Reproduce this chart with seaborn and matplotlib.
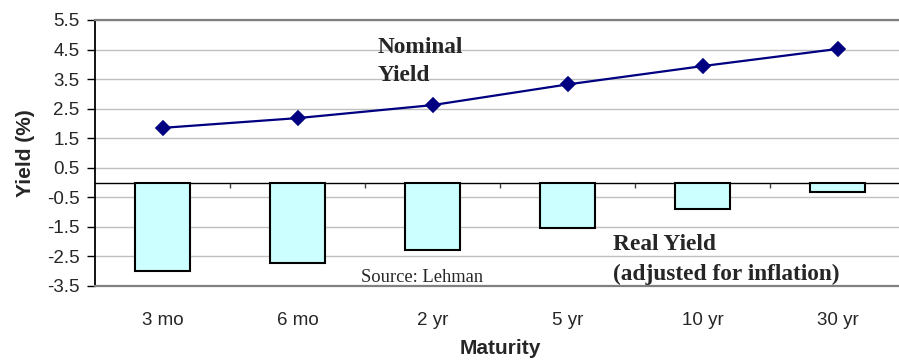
import numpy as np
import pandas as pd
import matplotlib
matplotlib.use('Agg')
import matplotlib.pyplot as plt
import seaborn as sns

# yield curve data
maturity = ['3 mo', '6 mo', '2 yr', '5 yr', '10 yr', '30 yr']
nominal_yield = [1.85, 2.18, 2.62, 3.32, 3.94, 4.52]
real_yield = [-3.0, -2.72, -2.28, -1.54, -0.90, -0.32]
y_ticks = [5.5, 4.5, 3.5, 2.5, 1.5, 0.5, -0.5, -1.5, -2.5, -3.5]

df = pd.DataFrame({'Maturity': maturity, 'Nominal': nominal_yield, 'Real': real_yield})

sns.set_style('white')
plt.rcParams['font.family'] = ['Liberation Sans', 'DejaVu Sans']

fig = plt.figure(figsize=(8.99, 3.61), dpi=100)
ax = fig.add_axes([0.1057, 0.2078, 0.901, 0.7368])

sns.barplot(data=df, x='Maturity', y='Real', color='#CCFFFF', saturation=1,
            edgecolor='black', linewidth=1.5, width=0.41, ax=ax, zorder=3)
sns.pointplot(data=df, x='Maturity', y='Nominal', color='#000080', markers='D',
              linestyles='-', markersize=7, linewidth=1.6, ax=ax)
for c in ax.collections + ax.lines:
    c.set_zorder(4)

ax.set_ylim(-3.5, 5.5)
ax.set_xlim(-0.5, len(maturity) - 0.5)
ax.set_yticks(y_ticks)
ax.set_yticklabels([f'{v:.1f}' for v in y_ticks], fontsize=13.5)
ax.yaxis.grid(True, color='#C0C0C0', linewidth=1)
ax.set_axisbelow(True)
ax.tick_params(axis='y', left=True, length=6, width=1, color='black', pad=5)
ax.tick_params(axis='x', bottom=False, length=0, pad=19, labelsize=13.5)

# zero line with small ticks between categories
ax.axhline(0, color='black', linewidth=1, zorder=2)
bounds = np.arange(len(maturity) - 1) + 0.5
ax.vlines(bounds, -0.2, 0, color='#404040', linewidth=1, zorder=2)

for s in ['top', 'bottom']:
    ax.spines[s].set_color('#808080')
    ax.spines[s].set_linewidth(1.6)
ax.spines['right'].set_visible(False)
ax.spines['left'].set_color('black')
ax.spines['left'].set_linewidth(1.3)

ax.set_ylabel('Yield (%)', fontsize=15, fontweight='bold', labelpad=9)
ax.set_xlabel('Maturity', fontsize=15, fontweight='bold', labelpad=7)

serif = ['Liberation Serif', 'DejaVu Serif']
big = dict(family=serif, fontsize=16.8, fontweight='bold', ha='left', va='baseline')
ax.text(1.596, 4.38, 'Nominal', **big)
ax.text(1.596, 3.44, 'Yield', **big)
ax.text(3.337, -2.28, 'Real Yield', **big)
ax.text(3.337, -3.30, '(adjusted for inflation)', **big)
ax.text(1.47, -3.36, 'Source: Lehman', family=serif, fontsize=13.3, ha='left', va='baseline')

plt.savefig('out.png', dpi=100)
